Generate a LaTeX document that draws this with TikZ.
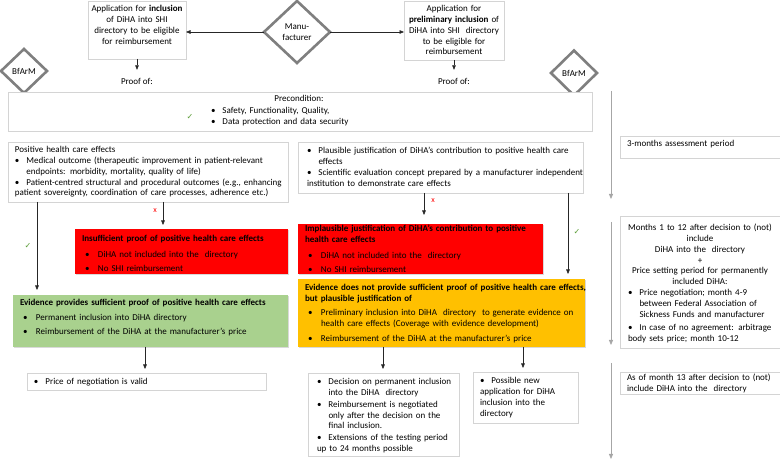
\documentclass[tikz,border=0pt]{standalone}
\usepackage{fontspec}
\setmainfont{Carlito}
\newfontfamily\symfont{DejaVu Sans}
\usetikzlibrary{arrows.meta,shapes.geometric,shadows,calc}

\definecolor{boxline}{HTML}{D4D4D4}
\definecolor{diag}{HTML}{7F7F7F}
\definecolor{redf}{HTML}{FF0000}
\definecolor{yelf}{HTML}{FFC000}
\definecolor{grnf}{HTML}{A9D18E}
\definecolor{chkc}{HTML}{5E9E3A}
\definecolor{tline}{HTML}{A6A6A6}

\newcommand\fsz{\fontsize{9}{10.7}\selectfont}
% first bullet of a node (no paragraph break before it)
\newcommand\myf[1]{\hangindent=11.5pt\hangafter=1\noindent\makebox[11.5pt][l]{\textbullet}#1}
% further bullets: optional space before
\newcommand\myb[2][0pt]{\par\vspace{#1}\myf{#2}}
% bullet in coloured boxes
\newcommand\myk[2][3.5pt]{\par\vspace{#1}\hangindent=16pt\hangafter=1\noindent\hspace*{3pt}\makebox[13pt][l]{\textbullet}#2}

\begin{document}
\begin{tikzpicture}[x=1pt,y=-1pt,
  every node/.style={inner sep=0pt,outer sep=0pt,font=\fsz},
  wbox/.style={draw=boxline,fill=white,line width=0.7pt,anchor=north west,
     drop shadow={shadow xshift=0.8pt,shadow yshift=-0.8pt,opacity=0.15}},
  cbox/.style={anchor=north west,
     drop shadow={shadow xshift=1pt,shadow yshift=-1.2pt,opacity=0.3}},
  dia/.style={diamond,draw=diag,line width=2.6pt,fill=white,align=center},
  txt/.style={anchor=base west,align=left},
  ctxt/.style={anchor=base,align=center},
  arr/.style={-{Triangle[length=4.5pt,width=3.6pt]},line width=0.6pt,draw=black!85},
  tarr/.style={-{Triangle[length=5pt,width=4pt]},line width=0.8pt,draw=tline},
  chk/.style={text=chkc,font=\symfont\fontsize{8}{8}\selectfont},
  xmk/.style={text=red,font=\fontsize{8}{8}\selectfont},
]
\useasboundingbox (0,0) rectangle (780,462);

% ---------- top row ----------
\node[wbox,minimum width=98pt,minimum height=58pt] (appA) at (88,1) {};
\node[wbox,minimum width=100pt,minimum height=59pt] (appB) at (404,1) {};
\node[dia,minimum width=66pt,minimum height=62pt] (man) at (297,32) {Manu-\\facturer};
\node[dia,minimum width=46pt,minimum height=44pt] (bfl) at (24,71) {BfArM};
\node[dia,minimum width=46pt,minimum height=45pt] (bfr) at (574,73) {BfArM};

\node[ctxt,text width=120pt] (tA) at (137,12) {Application for \textbf{inclusion}\\of DiHA into SHI\\directory to be eligible\\for reimbursement};
\node[ctxt,text width=120pt] (tB) at (454,12) {Application for\\\textbf{preliminary inclusion} of\\DiHA into SHI\ \ directory\\to be eligible for\\reimbursement};

\node[ctxt] (prA) at (137,85) {Proof of:};
\node[ctxt] (prB) at (454,85) {Proof of:};

% ---------- precondition ----------
\node[wbox,minimum width=584pt,minimum height=39pt] (pre) at (8,92) {};
\node[ctxt] (preT) at (299,102) {Precondition:};
\node[txt,text width=220pt] (preL) at (211,114) {\myf{Safety, Functionality, Quality,}\myb{Data protection and data security}};
\node[chk] (ck0) at (190,117) {✓};

% ---------- proof boxes ----------
\node[wbox,minimum width=280pt,minimum height=60pt] (posl) at (8,142) {};
\node[wbox,minimum width=285pt,minimum height=51pt] (posr) at (298,142) {};

\node[txt,text width=300pt] (tposl) at (15,153) {Positive health care effects%
\myb{Medical outcome (therapeutic improvement in patient-relevant\newline endpoints: morbidity, mortality, quality of life)}%
\myb{Patient-centred structural and procedural outcomes (e.g., enhancing\newline patient sovereignty, coordination of care processes, adherence etc.)}};

\node[txt,text width=300pt] (tposr) at (307,154) {\myf{Plausible justification of DiHA’s contribution to positive health care\newline effects}%
\myb{Scientific evaluation concept prepared by a manufacturer independent\newline institution to demonstrate care effects}};

% ---------- right column ----------
\node[wbox,minimum width=160pt,minimum height=22pt] (m3) at (620,136) {};
\node[wbox,minimum width=160pt,minimum height=132pt] (m12) at (620,216) {};
\node[wbox,minimum width=160pt,minimum height=22pt] (m13) at (620,372) {};

\node[txt,text width=160pt] (tm3) at (627,147) {3-months assessment period};
\node[ctxt,text width=160pt] (tm12a) at (700,231) {Months 1 to 12 after decision to (not)\\include\\DiHA into the\ \ directory\\+\\Price setting period for permanently\\included DiHA:};
\node[txt,text width=160pt] (tm12b) at (628,296) {\myf{Price negotiation; month 4-9\newline between Federal Association of\newline Sickness Funds and manufacturer}%
\myb[2.3pt]{In case of no agreement: arbitrage\newline body sets price; month 10-12}};
\node[txt,text width=160pt] (tm13) at (627,381) {As of month 13 after decision to (not)\newline include DiHA into the\ \ directory};

% ---------- outcome boxes ----------
\node[cbox,fill=redf,minimum width=213pt,minimum height=45pt] (redl) at (75,229) {};
\node[cbox,fill=redf,minimum width=245pt,minimum height=50pt] (redr) at (298,224) {};
\node[cbox,fill=grnf,minimum width=275pt,minimum height=52pt] (grn) at (13,295) {};
\node[cbox,fill=yelf,minimum width=287pt,minimum height=68pt] (yel) at (298,279) {};

\node[txt,text width=230pt] (tredl) at (82,242) {\textbf{Insufficient proof of positive health care effects}%
\myk[5pt]{DiHA not included into the\ \ directory}\myk{No SHI reimbursement}};
\node[txt,text width=260pt] (tredr) at (305,232) {\textbf{Implausible justification of DiHA’s contribution to positive\newline health care effects}%
\myk[5pt]{DiHA not included into the\ \ directory}\myk{No SHI reimbursement}};
\node[txt,text width=300pt] (tgrn) at (20,306) {\textbf{Evidence provides sufficient proof of positive health care effects}%
\myk[4.3pt]{Permanent inclusion into DiHA directory}\myk[3.3pt]{Reimbursement of the DiHA at the manufacturer’s price}};
\node[txt,text width=320pt] (tyel) at (305,291) {\textbf{Evidence does not provide sufficient proof of positive health care effects,\newline but plausible justification of}%
\myk[3.6pt]{Preliminary inclusion into DiHA\ \ directory\ \ to generate evidence on\newline health care effects (Coverage with evidence development)}%
\myk[4.6pt]{Reimbursement of the DiHA at the manufacturer’s price}};

% ---------- bottom boxes ----------
\node[wbox,minimum width=239pt,minimum height=17pt] (price) at (27,373) {};
\node[wbox,minimum width=151pt,minimum height=83pt] (dec) at (308,373) {};
\node[wbox,minimum width=105pt,minimum height=51pt] (newap) at (473,372) {};

\node[txt,text width=230pt] (tprice) at (34,385) {\myf{Price of negotiation is valid}};
\node[txt,text width=160pt] (tdec) at (317,385) {\myf{Decision on permanent inclusion\newline into the DiHA\ \ directory}%
\myb[1.2pt]{Reimbursement is negotiated\newline only after the decision on the\newline final inclusion.}%
\myb[1.2pt]{Extensions of the testing period\newline up to 24 months possible}};
\node[txt,text width=120pt] (tnew) at (480,384) {\myf{Possible new\newline application for DiHA\newline inclusion into the\newline directory}};

% ---------- connectors ----------
\draw[arr] (man.west) -- (man.west -| appA.east);
\draw[arr] (man.east) -- (man.east -| appB.west);
\draw[arr,shorten >=9pt] (appA.south) -- (appA.south |- prA.north);
\draw[arr,shorten >=9pt] (appB.south) -- (appB.south |- prB.north);

\coordinate (xl1) at (37,0);
\coordinate (xl2) at (163,0);
\coordinate (xr1) at (424,0);
\coordinate (xr2) at (568,0);
\coordinate (xg) at (145,0);
\coordinate (xy1) at (383,0);
\coordinate (xy2) at (523,0);

\draw[arr,shorten >=5pt] (posl.south -| xl1) -- (grn.north -| xl1);
\draw[arr,shorten >=4pt] (posl.south -| xl2) -- (redl.north -| xl2);
\draw[arr,shorten >=9pt] (posr.south -| xr1) -- (redr.north -| xr1);
\draw[arr,shorten >=5pt] (posr.south -| xr2) -- (yel.north -| xr2);
\draw[arr,shorten >=4pt] (grn.south -| xg) -- (price.north -| xg);
\draw[arr,shorten >=4pt] (yel.south -| xy1) -- (dec.north -| xy1);
\draw[arr,shorten >=4pt] (yel.south -| xy2) -- (newap.north -| xy2);

\node[chk] (ck1) at (28,246) {✓};
\node[chk] (ck2) at (577,232) {✓};
\node[xmk] (x1) at (155,211) {x};
\node[xmk] (x2) at (433,201) {x};

% ---------- time line ----------
\coordinate (t1a) at (611,91);
\coordinate (t1b) at (611,199);
\coordinate (t2a) at (611,222);
\coordinate (t2b) at (611,345);
\coordinate (t3a) at (611,363);
\coordinate (t3b) at (611,459);
\draw[tarr] (t1a) -- (t1b);
\draw[tarr] (t2a) -- (t2b);
\draw[tarr] (t3a) -- (t3b);
\end{tikzpicture}
\end{document}
